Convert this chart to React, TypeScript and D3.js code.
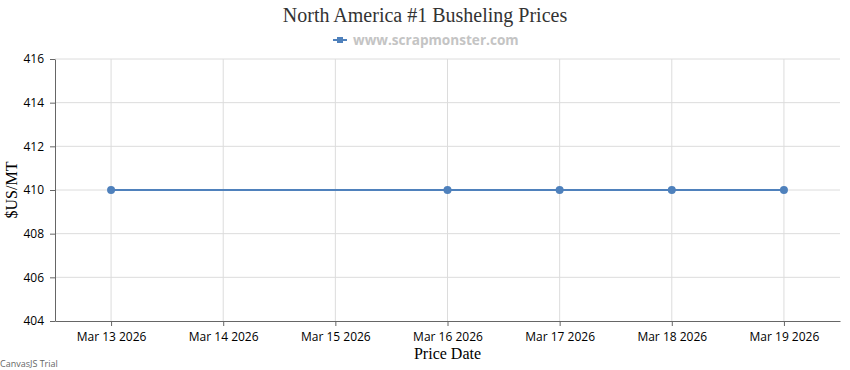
import React, { useRef, useEffect } from "react";
import * as d3 from "d3";

const dates = ["2026-03-13", "2026-03-16", "2026-03-17", "2026-03-18", "2026-03-19"];
const prices = [410, 410, 410, 410, 410];
const yTicks = [404, 406, 408, 410, 412, 414, 416];

const W = 850,
  H = 370;
const margin = { top: 59, right: 10, bottom: 49, left: 55 };

const parse = d3.timeParse("%Y-%m-%d");
const fmt = d3.timeFormat("%b %d %Y");

export default function App() {
  const ref = useRef<SVGSVGElement>(null);

  useEffect(() => {
    const svg = d3.select(ref.current);
    svg.selectAll("*").remove();

    const data = dates.map((d, i) => ({ date: parse(d)!, value: prices[i] }));
    const x0 = d3.timeHour.offset(data[0].date, -12);
    const x1 = d3.timeHour.offset(data[data.length - 1].date, 12);

    const x = d3
      .scaleTime()
      .domain([x0, x1])
      .range([margin.left, W - margin.right]);
    const y = d3
      .scaleLinear()
      .domain([404, 416])
      .range([H - margin.bottom, margin.top]);

    const dayTicks = d3.timeDay.range(data[0].date, d3.timeHour.offset(x1, 1));

    // grid
    svg
      .append("g")
      .selectAll("line")
      .data(yTicks.slice(1))
      .enter()
      .append("line")
      .attr("x1", margin.left)
      .attr("x2", W - margin.right)
      .attr("y1", (d) => y(d))
      .attr("y2", (d) => y(d))
      .attr("stroke", "#dcdcdc");
    svg
      .append("g")
      .selectAll("line")
      .data(dayTicks)
      .enter()
      .append("line")
      .attr("x1", (d) => x(d))
      .attr("x2", (d) => x(d))
      .attr("y1", margin.top)
      .attr("y2", H - margin.bottom)
      .attr("stroke", "#dcdcdc");

    // axes
    const ax = svg
      .append("g")
      .attr("transform", `translate(0,${H - margin.bottom})`)
      .call(
        d3
          .axisBottom(x)
          .tickValues(dayTicks)
          .tickFormat((d) => fmt(d as Date))
          .tickSize(5)
          .tickSizeOuter(0)
          .tickPadding(6)
      );
    const ay = svg
      .append("g")
      .attr("transform", `translate(${margin.left},0)`)
      .call(d3.axisLeft(y).tickValues(yTicks).tickSize(5).tickSizeOuter(0).tickPadding(6));
    [ax, ay].forEach((g) => {
      g.select(".domain").attr("stroke", "#666");
      g.selectAll(".tick line").attr("stroke", "#666");
      g.selectAll(".tick text")
        .attr("fill", "#000")
        .style("font-family", "'Open Sans', sans-serif")
        .style("font-size", "12px");
    });

    // line
    const line = d3
      .line<{ date: Date; value: number }>()
      .x((d) => x(d.date))
      .y((d) => y(d.value));
    svg
      .append("path")
      .datum(data)
      .attr("d", line)
      .attr("fill", "none")
      .attr("stroke", "#4f81bc")
      .attr("stroke-width", 2);
    svg
      .append("g")
      .selectAll("circle")
      .data(data)
      .enter()
      .append("circle")
      .attr("cx", (d) => x(d.date))
      .attr("cy", (d) => y(d.value))
      .attr("r", 4)
      .attr("fill", "#4f81bc");

    // titles
    svg
      .append("text")
      .attr("x", W / 2)
      .attr("y", 22)
      .attr("text-anchor", "middle")
      .style("font-family", "'Liberation Serif', serif")
      .style("font-size", "20px")
      .attr("fill", "#333")
      .text("North America #1 Busheling Prices");

    const lg = svg.append("g").attr("transform", `translate(333,40)`);
    lg.append("line").attr("x1", 0).attr("x2", 14).attr("stroke", "#4f81bc").attr("stroke-width", 2);
    lg.append("rect").attr("x", 4).attr("y", -3).attr("width", 6).attr("height", 6).attr("fill", "#4f81bc");
    lg.append("text")
      .attr("x", 20)
      .attr("y", 5)
      .style("font-family", "'Open Sans', sans-serif")
      .style("font-size", "13.6px")
      .style("font-weight", "bold")
      .attr("fill", "#c4c4c4")
      .text("www.scrapmonster.com");

    svg
      .append("text")
      .attr("transform", `translate(17,${(margin.top + H - margin.bottom) / 2}) rotate(-90)`)
      .attr("text-anchor", "middle")
      .style("font-family", "'Liberation Serif', serif")
      .style("font-size", "16px")
      .attr("fill", "#000")
      .text("$US/MT");

    svg
      .append("text")
      .attr("x", (margin.left + W - margin.right) / 2)
      .attr("y", 359)
      .attr("text-anchor", "middle")
      .style("font-family", "'Liberation Serif', serif")
      .style("font-size", "16px")
      .attr("fill", "#000")
      .text("Price Date");

    svg
      .append("text")
      .attr("x", 0)
      .attr("y", 367)
      .style("font-family", "'Open Sans', sans-serif")
      .style("font-size", "9px")
      .attr("fill", "#666")
      .text("CanvasJS Trial");
  }, []);

  return (
    <svg
      ref={ref}
      width={W}
      height={H}
      style={{ position: "absolute", left: 0, top: 0, background: "#fff" }}
    ></svg>
  );
}
